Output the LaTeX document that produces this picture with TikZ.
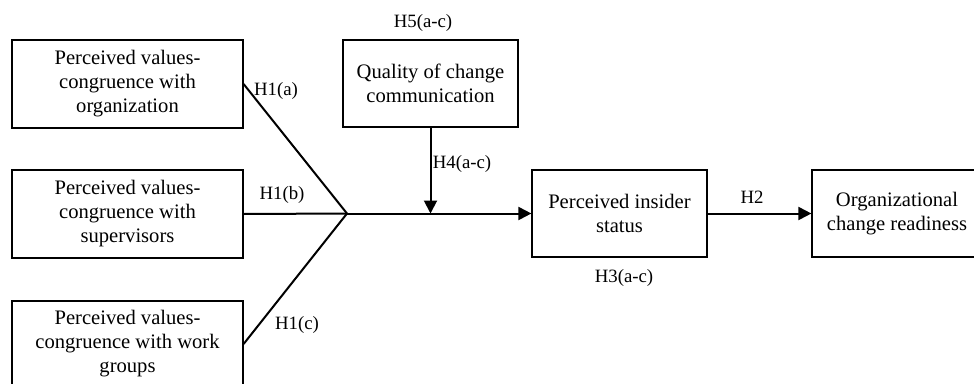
\documentclass[tikz,border=0pt]{standalone}
\usepackage{fontspec}
\setmainfont{Liberation Serif}
\usetikzlibrary{arrows.meta}
\begin{document}
\begin{tikzpicture}[x=1pt,y=-1pt,
  box/.style={draw,line width=1.2pt,inner sep=0pt,align=center,
    font=\fontsize{20.6}{24}\selectfont},
  lbl/.style={font=\fontsize{18.8}{22}\selectfont,inner sep=0pt},
  conn/.style={line width=2pt},
  arr/.style={line width=2pt,-{Triangle[length=13pt,width=13pt]}}]
\useasboundingbox (0,0) rectangle (974,383);
\clip (0,0) rectangle (974,383);
\node[box,minimum width=231pt,minimum height=88pt] (b1) at (127.5,84) {Perceived values-\\congruence with\\organization};
\node[box,minimum width=231pt,minimum height=88pt] (b2) at (127.5,214) {Perceived values-\\congruence with\\supervisors};
\node[box,minimum width=231pt,minimum height=86pt] (b3) at (127.5,344) {Perceived values-\\congruence with work\\groups};
\node[box,minimum width=175pt,minimum height=87pt] (q) at (430.5,83.5) {Quality of change\\communication};
\node[box,minimum width=175pt,minimum height=87pt] (p) at (619.5,213.5) {Perceived insider\\status};
\node[box,minimum width=170pt,minimum height=87pt] (o) at (897,213.5) {Organizational\\change readiness};
\coordinate (j) at (347,213.5);
\coordinate (m) at (q.south |- j);
\draw[conn] (b1.east) -- (j);
\draw[conn] (b2.east) -- (j);
\draw[conn] (b3.east) -- (j);
\draw[arr] (j) -- (p.west);
\draw[arr] (q.south) -- (m);
\draw[arr] (p.east) -- (o.west);
\node[lbl] (h1a) at (276,91) {H1(a)};
\node[lbl] (h1b) at (282,195) {H1(b)};
\node[lbl] (h1c) at (297,325) {H1(c)};
\node[lbl] (h4) at (462,164) {H4(a-c)};
\node[lbl] (h5) at (423,23) {H5(a-c)};
\node[lbl] (h3) at (624,278) {H3(a-c)};
\node[lbl] (h2) at (752,197) {H2};
\end{tikzpicture}
\end{document}
